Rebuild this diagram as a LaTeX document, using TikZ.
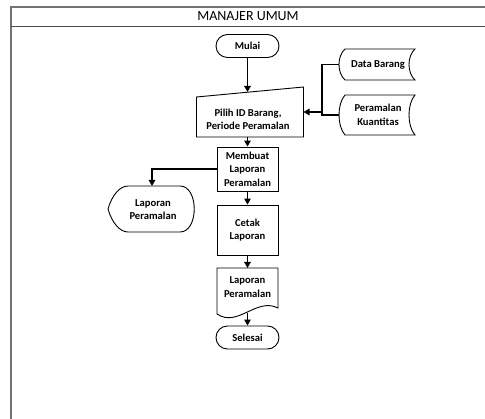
\documentclass[tikz,border=0pt]{standalone}
\usepackage{fontspec}
\setmainfont{Carlito}
\usetikzlibrary{arrows.meta,calc}
\begin{document}
\begin{tikzpicture}[x=1pt,y=-1pt,
  txt/.style={font=\bfseries\fontsize{10.6}{13.5}\selectfont,align=center,inner sep=0pt},
  outline/.style={draw=black,line width=0.9pt},
  procbox/.style={txt,outline,minimum width=61pt,minimum height=44pt},
  termbox/.style={txt,outline,rounded corners=11.5pt,minimum width=63pt,minimum height=23pt},
  flow/.style={draw=black,line width=1.3pt,-{Triangle[length=6pt,width=6.5pt]}},
  link/.style={draw=black,line width=1.3pt},
]
\useasboundingbox (0,0) rectangle (485,419);

% swimlane frame and header
\draw[black!55,line width=1.8pt] (11,419) -- (11,7) -- (485,7);
\draw[black!70,line width=0.9pt] (11,26) -- (485,26);
\node[font=\fontsize{14}{16}\selectfont,inner sep=0pt] (lane) at (248,16.5) {MANAJER UMUM};

% start
\node[termbox] (mulai) at (247.5,46) {Mulai};

% manual input
\draw[outline] (196.5,137) -- (303.5,137) -- (303.5,87) -- (196.5,97) -- cycle;
\node[txt] (pilih) at (248,119.5) {Pilih ID Barang,\\Periode Peramalan};
\coordinate (pilihAtas) at (247.5,92);
\coordinate (pilihBawah) at (247.5,137);
\coordinate (pilihKanan) at (303.5,112);

% stored data
\draw[outline] (345,49) -- (415,49) .. controls (407,56) and (407,73) .. (415,80) -- (345,80) .. controls (337,73) and (337,56) .. (345,49) -- cycle;
\node[txt] (data) at (378,64.5) {Data Barang};
\coordinate (dataKiri) at (339,64.5);
\draw[outline] (345,95) -- (415,95) .. controls (407,104) and (407,126) .. (415,135) -- (345,135) .. controls (337,126) and (337,104) .. (345,95) -- cycle;
\node[txt] (ramal) at (378,115) {Peramalan\\Kuantitas};
\coordinate (ramalKiri) at (339,115);
\coordinate (cabang) at (322,112);

% processes
\node[procbox] (buat) at (247.5,169) {Membuat\\Laporan\\Peramalan};
\node[procbox,minimum height=50pt] (cetak) at (247.5,230) {Cetak\\Laporan};

% document
\draw[outline] (217,314) -- (217,268) -- (278,268) -- (278,308) .. controls (256,297) and (238,328) .. (217,314) -- cycle;
\node[txt] (dok) at (247.5,287) {Laporan\\Peramalan};
\coordinate (dokAtas) at (247.5,268);
\coordinate (dokBawah) at (247.5,313);

% end
\node[termbox] (selesai) at (247.5,337.5) {Selesai};

% display
\draw[outline] (108,209) .. controls (112,195) and (120,186) .. (128,186) -- (180,186) .. controls (199,186) and (199,232) .. (180,232) -- (128,232) .. controls (120,232) and (112,223) .. (108,209) -- cycle;
\node[txt] (tampil) at (153,209.5) {Laporan\\Peramalan};
\coordinate (tampilAtas) at (152,186);

% connectors
\draw[link] (dataKiri) -| (cabang) |- (ramalKiri);
\draw[flow] (cabang) -- (pilihKanan);
\draw[flow] (mulai) -- (pilihAtas);
\draw[flow] (pilihBawah) -- (buat);
\draw[flow] (buat) -- (cetak);
\draw[flow] (cetak) -- (dokAtas);
\draw[flow] (dokBawah) -- (selesai);
\draw[flow] (buat.west) -| (tampilAtas);
\end{tikzpicture}
\end{document}
